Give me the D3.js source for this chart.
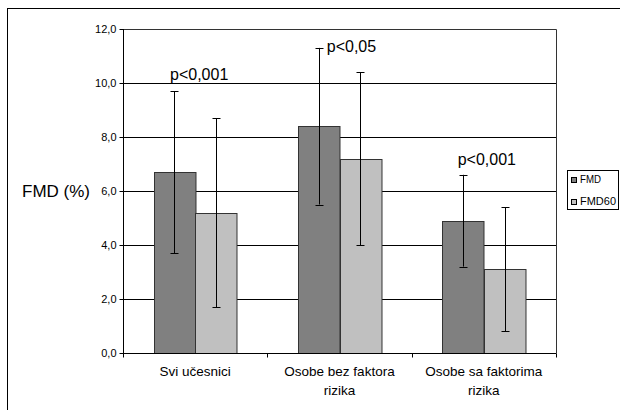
<!DOCTYPE html>
<html>
<head>
<meta charset="utf-8">
<script src="https://cdn.jsdelivr.net/npm/d3@7"></script>
<style>
  body { margin: 0; background: #fff; }
  svg { display: block; font-family: Arial, "Liberation Sans", sans-serif; }
</style>
</head>
<body>
<script>
// data
const categories = [['Svi učesnici'], ['Osobe bez faktora', 'rizika'], ['Osobe sa faktorima', 'rizika']];
const seriesNames = ['FMD', 'FMD60'];
const fmd = [6.7, 8.4, 4.9];
const fmdErr = [3.0, 2.9, 1.7];
const fmd60 = [5.2, 7.2, 3.1];
const fmd60Err = [3.5, 3.2, 2.3];
const pLabels = ['p<0,001', 'p<0,05', 'p<0,001'];
const yTicks = [0, 2, 4, 6, 8, 10, 12];

const width = 620;
const height = 410;
const colors = ['#808080', '#c0c0c0'];

const svg = d3.select('body').append('svg').attr('width', width).attr('height', height);

// outer frame (only top/left visible in the crop)
svg.append('rect')
  .attr('x', 7.5).attr('y', 8.5)
  .attr('width', 700).attr('height', 500)
  .attr('fill', 'none').attr('stroke', '#000');

const plot = { left: 123, right: 556, top: 29, bottom: 353 };

const x0 = d3.scaleBand()
  .domain(d3.range(categories.length))
  .range([plot.left, plot.right])
  .paddingInner(0.425)
  .paddingOuter(0.2125);
const x1 = d3.scaleBand().domain(d3.range(2)).range([0, x0.bandwidth()]);
const y = d3.scaleLinear().domain([0, 12]).range([plot.bottom, plot.top]);

// gridlines
svg.append('g')
  .selectAll('line')
  .data(yTicks.filter((t) => t > 0 && t < 12))
  .join('line')
  .attr('x1', plot.left).attr('x2', plot.right)
  .attr('y1', (d) => Math.round(y(d)) + 0.5)
  .attr('y2', (d) => Math.round(y(d)) + 0.5)
  .attr('stroke', '#000');

// plot border (top & right)
svg.append('path')
  .attr('d', `M${plot.left},${plot.top + 0.5}H${plot.right + 0.5}V${plot.bottom}`)
  .attr('fill', 'none').attr('stroke', '#333');

// bars
const series = [fmd, fmd60];
const errs = [fmdErr, fmd60Err];
const gBars = svg.append('g');
series.forEach((vals, s) => {
  gBars.selectAll(null)
    .data(vals)
    .join('rect')
    .attr('x', (d, i) => Math.round(x0(i) + x1(s)) + 0.5)
    .attr('y', (d) => Math.round(y(d)) + 0.5)
    .attr('width', x1.bandwidth())
    .attr('height', (d) => Math.round(plot.bottom - y(d)))
    .attr('fill', colors[s])
    .attr('stroke', '#333');
});

// error bars
const gErr = svg.append('g').attr('stroke', '#000');
series.forEach((vals, s) => {
  vals.forEach((v, i) => {
    const cx = Math.round(x0(i) + x1(s) + x1.bandwidth() / 2) + 0.5;
    const lo = y(v - errs[s][i]);
    const hi = y(v + errs[s][i]);
    gErr.append('line').attr('x1', cx).attr('x2', cx).attr('y1', lo).attr('y2', hi);
    [lo, hi].forEach((yy) => {
      gErr.append('line')
        .attr('x1', cx - 4).attr('x2', cx + 4)
        .attr('y1', Math.round(yy) + 0.5).attr('y2', Math.round(yy) + 0.5);
    });
  });
});

// y axis
const yAxis = svg.append('g')
  .attr('transform', `translate(${plot.left + 0.5},0)`)
  .call(d3.axisLeft(y).tickValues(yTicks).tickSize(4).tickPadding(3)
    .tickFormat((d) => d3.format('.1f')(d).replace('.', ',')));
yAxis.select('.domain').attr('stroke', '#000').attr('d', `M0,${plot.top}V${plot.bottom}`);
yAxis.selectAll('.tick line').attr('stroke', '#000');
yAxis.selectAll('.tick text').attr('font-size', 11).attr('fill', '#000')
  .attr('font-family', 'Arial, "Liberation Sans", sans-serif');

// x axis
const xCat = d3.scaleLinear().domain([0, categories.length]).range([plot.left, plot.right]);
const xAxis = svg.append('g').attr('transform', `translate(0,${plot.bottom + 0.5})`);
xAxis.append('line')
  .attr('x1', plot.left).attr('x2', plot.right + 0.5)
  .attr('stroke', '#000');
xAxis.selectAll('.tk')
  .data(d3.range(categories.length + 1))
  .join('line')
  .attr('x1', (d) => Math.round(xCat(d)) + 0.5)
  .attr('x2', (d) => Math.round(xCat(d)) + 0.5)
  .attr('y1', 0).attr('y2', 4)
  .attr('stroke', '#000');

const gLabels = svg.append('g')
  .attr('font-size', 13.5).attr('text-anchor', 'middle').attr('fill', '#000');
categories.forEach((lines, i) => {
  const t = gLabels.append('text').attr('x', x0(i) + x0.bandwidth() / 2).attr('y', 376);
  lines.forEach((ln, j) => {
    t.append('tspan').attr('x', x0(i) + x0.bandwidth() / 2).attr('dy', j === 0 ? 0 : 19).text(ln);
  });
});

// p-value annotations
const pPos = [
  { x: x0(0) + x0.bandwidth() / 2 + 4, y: 80, anchor: 'middle' },
  { x: x0(1) + x1.bandwidth() / 2 + 8, y: 52, anchor: 'start' },
  { x: x0(2) + x0.bandwidth() / 2 + 3, y: 165, anchor: 'middle' }
];
svg.append('g')
  .selectAll('text')
  .data(pLabels)
  .join('text')
  .attr('x', (d, i) => pPos[i].x)
  .attr('y', (d, i) => pPos[i].y)
  .attr('text-anchor', (d, i) => pPos[i].anchor)
  .attr('font-size', 16)
  .text((d) => d);

// y axis title
svg.append('text')
  .attr('x', 22).attr('y', 197)
  .attr('font-size', 17)
  .text('FMD (%)');

// legend
const legend = svg.append('g');
legend.append('rect')
  .attr('x', 567.5).attr('y', 170.5)
  .attr('width', 51).attr('height', 39)
  .attr('fill', '#fff').attr('stroke', '#000');
seriesNames.forEach((name, i) => {
  const ly = 177 + i * 22;
  legend.append('rect')
    .attr('x', 571.5).attr('y', ly + 0.5)
    .attr('width', 5).attr('height', 5)
    .attr('fill', colors[i]).attr('stroke', '#000');
  legend.append('text')
    .attr('x', 580).attr('y', ly + 6)
    .attr('font-size', 10)
    .attr('textLength', name.length > 3 ? 36 : 21)
    .attr('lengthAdjust', 'spacingAndGlyphs')
    .text(name);
});
</script>
</body>
</html>
